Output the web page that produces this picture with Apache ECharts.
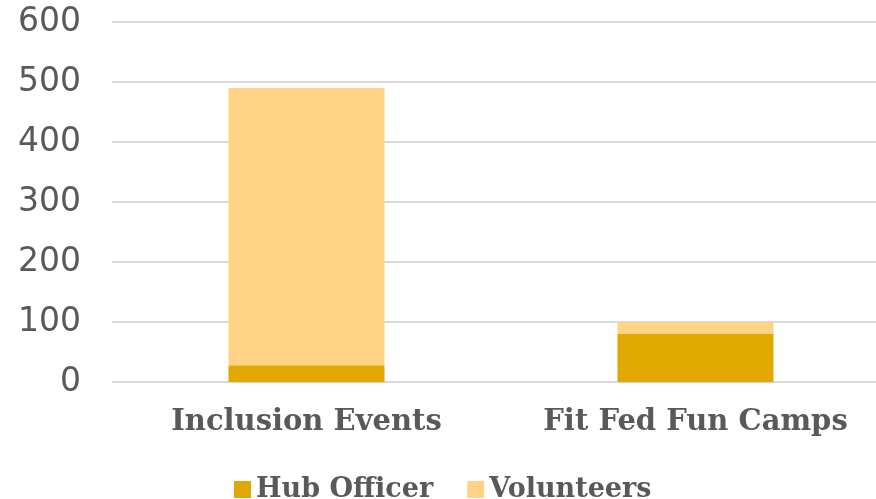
<!DOCTYPE html>
<html>
<head>
<meta charset="utf-8">
<script src="https://cdn.jsdelivr.net/npm/echarts@6/dist/echarts.min.js"></script>
<style>
  html, body { margin: 0; padding: 0; background: #ffffff; }
  #chart { width: 876px; height: 499px; }
</style>
</head>
<body>
<div id="chart"></div>
<script>
// categories and stacked values
const categories = ['Inclusion Events', 'Fit Fed Fun Camps']
const hubOfficer = [28, 81]
const volunteers = [462, 19]
const yTicks = { min: 0, max: 600, interval: 100 }

const textColor = '#595959'
const slab = 'DejaVu Serif'

const chart = echarts.init(document.getElementById('chart'))
chart.setOption({
  animation: false,
  grid: {
    left: 112,
    right: -14,
    top: 22,
    bottom: 117,
    outerBoundsMode: 'none'
  },
  legend: {
    data: ['Hub Officer', 'Volunteers'],
    top: 471,
    left: 229,
    itemWidth: 17,
    itemHeight: 17,
    itemGap: 34,
    icon: 'rect',
    textStyle: {
      color: textColor,
      fontFamily: slab,
      fontWeight: 'bold',
      fontSize: 27
    }
  },
  xAxis: {
    type: 'category',
    data: categories,
    axisLine: { show: false },
    axisTick: { show: false },
    axisLabel: {
      interval: 0,
      color: textColor,
      fontFamily: slab,
      fontWeight: 'bold',
      fontSize: 29,
      margin: 26
    }
  },
  yAxis: {
    type: 'value',
    min: yTicks.min,
    max: yTicks.max,
    interval: yTicks.interval,
    axisLine: { show: false },
    axisTick: { show: false },
    axisLabel: {
      color: textColor,
      fontFamily: 'DejaVu Sans',
      fontSize: 33,
      margin: 31
    },
    splitLine: {
      lineStyle: { color: '#d9d9d9', width: 2 }
    }
  },
  series: [
    {
      name: 'Hub Officer',
      type: 'bar',
      stack: 'total',
      barWidth: 156,
      data: hubOfficer,
      itemStyle: { color: '#e0a800' }
    },
    {
      name: 'Volunteers',
      type: 'bar',
      stack: 'total',
      barWidth: 156,
      data: volunteers,
      itemStyle: { color: '#ffd285' }
    }
  ]
})
</script>
</body>
</html>
